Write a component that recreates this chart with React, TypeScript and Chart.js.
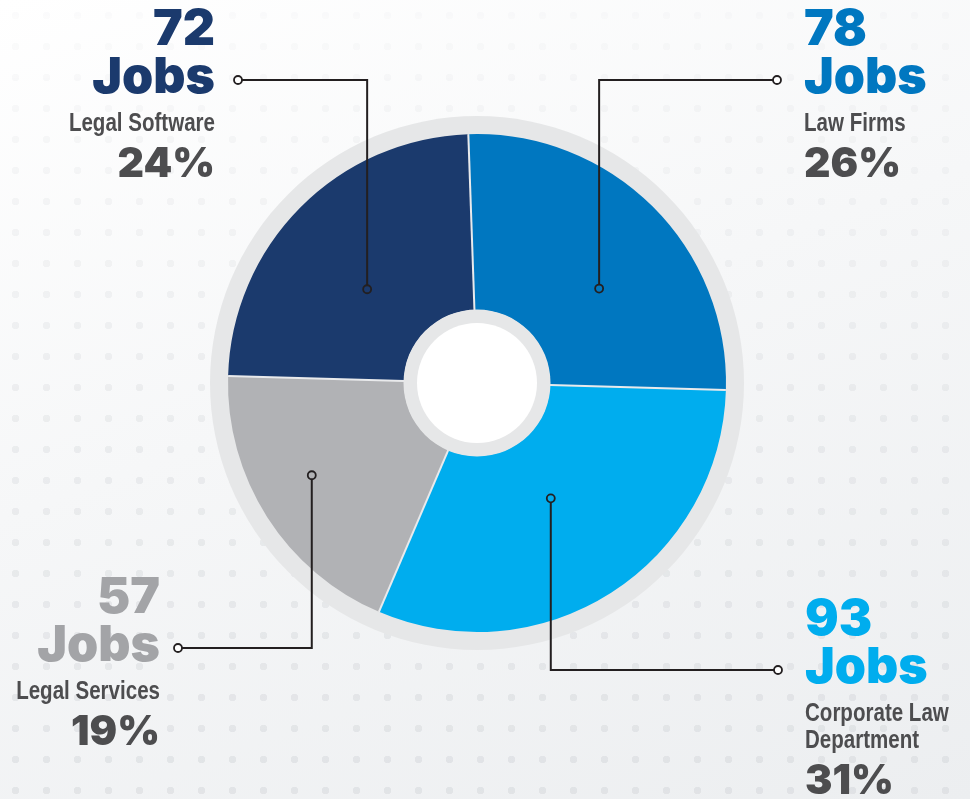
import React, { useEffect, useRef } from "react";
import { Chart, registerables } from "chart.js";

Chart.register(...registerables);

// Data (clockwise from top)
const categories = ["Law Firms", "Corporate Law Department", "Legal Services", "Legal Software"];
const nameLines = [["Law Firms"], ["Corporate Law", "Department"], ["Legal Services"], ["Legal Software"]];
const jobs = [78, 93, 57, 72];
const percents = [26, 31, 19, 24];
const sliceColors = ["#0077c0", "#00adee", "#b1b2b5", "#1b3a6d"];
const numberColors = ["#0077c0", "#00adee", "#a3a4a7", "#1b3a6d"];

// Leader-line layout (annotation styling)
const anchorT = [0.58, 0.5, 0.55, 0.45];
const anchorR = [0.62, 0.55, 0.76, 0.58];
const elbowY = [80, 670, 648, 80];
const endX = [777, 778, 178, 238];
const side = ["right", "right", "left", "left"];

const W = 970;
const H = 799;
const CX = 477;
const CY = 383;
const R = 249;
const NARROW = 0.79;

const decorPlugin = {
  id: "decor",
  beforeDatasetsDraw(chart: any) {
    const meta = chart.getDatasetMeta(0);
    const arc = meta.data[0];
    if (!arc) return;
    const { x, y, outerRadius } = arc.getProps(["x", "y", "outerRadius"], true);
    const ctx = chart.ctx;
    ctx.save();
    ctx.beginPath();
    ctx.arc(x, y, outerRadius + 18, 0, Math.PI * 2);
    ctx.fillStyle = "#e6e7e8";
    ctx.fill();
    ctx.restore();
  },
  afterDatasetsDraw(chart: any) {
    const meta = chart.getDatasetMeta(0);
    const ctx = chart.ctx;
    const arcs = meta.data;
    if (!arcs.length) return;
    const p0 = arcs[0].getProps(["x", "y", "outerRadius", "innerRadius"], true);
    const cx = p0.x, cy = p0.y, outerR = p0.outerRadius, innerR = p0.innerRadius;
    ctx.save();
    // separators
    ctx.strokeStyle = "#e9eaec";
    ctx.lineWidth = 2;
    arcs.forEach((a: any) => {
      const { startAngle } = a.getProps(["startAngle"], true);
      ctx.beginPath();
      ctx.moveTo(cx + innerR * Math.cos(startAngle), cy + innerR * Math.sin(startAngle));
      ctx.lineTo(cx + outerR * Math.cos(startAngle), cy + outerR * Math.sin(startAngle));
      ctx.stroke();
    });
    // hole
    ctx.beginPath();
    ctx.arc(cx, cy, innerR + 0.5, 0, Math.PI * 2);
    ctx.fillStyle = "#e6e7e8";
    ctx.fill();
    ctx.beginPath();
    ctx.arc(cx, cy, innerR - 13, 0, Math.PI * 2);
    ctx.fillStyle = "#ffffff";
    ctx.fill();

    // leader lines + labels
    arcs.forEach((a: any, i: number) => {
      const { startAngle, endAngle } = a.getProps(["startAngle", "endAngle"], true);
      const ang = startAngle + anchorT[i] * (endAngle - startAngle);
      const r = outerR * anchorR[i];
      const dx = cx + r * Math.cos(ang);
      const dy = cy + r * Math.sin(ang);
      const ey = elbowY[i];
      const ex = endX[i];
      ctx.strokeStyle = "#231f20";
      ctx.lineWidth = 2;
      ctx.beginPath();
      ctx.moveTo(dx, dy + (ey < dy ? -4 : 4));
      ctx.lineTo(dx, ey);
      ctx.lineTo(ex + (side[i] === "right" ? -4 : 4), ey);
      ctx.stroke();
      ctx.lineWidth = 1.8;
      ctx.beginPath();
      ctx.arc(dx, dy, 4, 0, Math.PI * 2);
      ctx.stroke();
      ctx.beginPath();
      ctx.arc(ex, ey, 4, 0, Math.PI * 2);
      ctx.fillStyle = "#ffffff";
      ctx.fill();
      ctx.stroke();

      const right = side[i] === "right";
      const tx = right ? ex + 27 : ex - (i === 3 ? 23 : 18);
      ctx.textAlign = right ? "left" : "right";
      ctx.textBaseline = "alphabetic";
      ctx.fillStyle = numberColors[i];
      ctx.font = "900 50px Inter, 'DejaVu Sans', sans-serif";
      ctx.fillText(String(jobs[i]), tx, ey - 35);
      ctx.fillText("Jobs", tx, ey + 13);
      ctx.fillStyle = "#4d4d4f";
      ctx.font = "bold 26px 'Liberation Sans', Arial, sans-serif";
      const lines = nameLines[i];
      lines.forEach((ln, k) => {
        ctx.save();
        ctx.translate(tx, ey + 51 + k * 27);
        ctx.scale(NARROW, 1);
        ctx.fillText(ln, 0, 0);
        ctx.restore();
      });
      ctx.font = "900 41px Inter, 'DejaVu Sans', sans-serif";
      ctx.fillText(percents[i] + "%", tx, ey + 97 + (lines.length - 1) * 27);
    });
    ctx.restore();
  },
};

export default function App() {
  const ref = useRef<HTMLCanvasElement | null>(null);
  useEffect(() => {
    if (!ref.current) return;
    const left = CX - R;
    const top = CY - R;
    const chart = new Chart(ref.current, {
      type: "doughnut",
      data: {
        labels: categories,
        datasets: [
          {
            data: jobs,
            backgroundColor: sliceColors,
            borderWidth: 0,
          },
        ],
      },
      options: {
        responsive: false,
        animation: false,
        rotation: -2,
        radius: R,
        cutout: 73,
        layout: { padding: { left, top, right: W - left - 2 * R, bottom: H - top - 2 * R } },
        plugins: { legend: { display: false }, tooltip: { enabled: false } },
      },
      plugins: [decorPlugin],
    });
    return () => chart.destroy();
  }, []);
  return (
    <div
      style={{
        position: "absolute",
        left: 0,
        top: 0,
        width: W,
        height: H,
        background: "linear-gradient(160deg, #ffffff 0%, #f6f7f8 45%, #eceef0 100%)",
      }}
    >
      <div
        style={{
          position: "absolute",
          inset: 0,
          background: "radial-gradient(circle, rgba(205,208,212,0.45) 3.5px, transparent 4px) 0 0 / 31px 31px",
          WebkitMaskImage: "linear-gradient(180deg, rgba(0,0,0,0.15) 0%, rgba(0,0,0,0.6) 50%, rgba(0,0,0,0.9) 100%)",
          maskImage: "linear-gradient(180deg, rgba(0,0,0,0.15) 0%, rgba(0,0,0,0.6) 50%, rgba(0,0,0,0.9) 100%)",
        }}
      />
      <canvas ref={ref} width={W} height={H} style={{ display: "block", position: "relative" }} />
    </div>
  );
}
